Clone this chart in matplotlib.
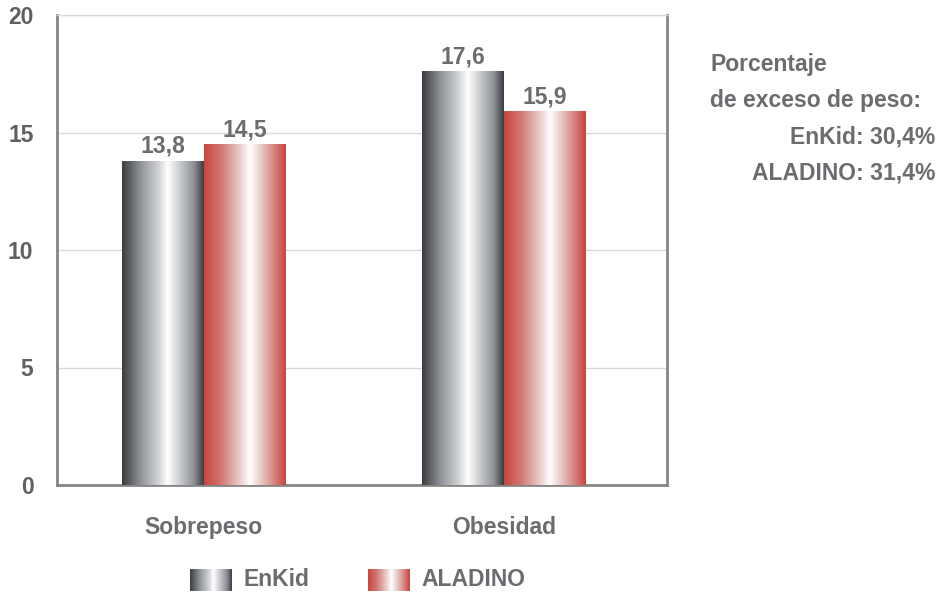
import numpy as np
import matplotlib
matplotlib.use("Agg")
import matplotlib.pyplot as plt
from matplotlib.colors import LinearSegmentedColormap

categories = ["Sobrepeso", "Obesidad"]
series_names = ["EnKid", "ALADINO"]
enkid = [13.8, 17.6]
aladino = [14.5, 15.9]
value_labels = [["13,8", "17,6"], ["14,5", "15,9"]]
yticks = [0, 5, 10, 15, 20]
note_lines = ["Porcentaje", "de exceso de peso:", "EnKid: 30,4%", "ALADINO: 31,4%"]

TEXT = "#6b6c70"
FONT = ["Liberation Sans", "DejaVu Sans"]
FS = 16.5

def metallic(dark, mid, light):
    return LinearSegmentedColormap.from_list(
        "m", [(0.0, dark), (0.22, mid), (0.45, light), (0.56, "#ffffff"),
              (0.68, light), (0.88, mid), (1.0, dark)])

cmaps = [metallic("#3a3c3f", "#8d9095", "#d2d4d7"),
         metallic("#c9443f", "#d47a74", "#ead2cf")]

fig = plt.figure(figsize=(9.41, 5.97), dpi=100)
ax = fig.add_axes([57 / 941, (597 - 485) / 597, 610 / 941, 470 / 597])

x = np.arange(len(categories))
width = 0.272
grad = np.linspace(0, 1, 256).reshape(1, -1)

for i, (vals, cmap) in enumerate(zip([enkid, aladino], cmaps)):
    offs = x + (i - 0.5) * width
    bars = ax.bar(offs, vals, width, facecolor="none", edgecolor="none", zorder=3)
    for b, lab in zip(bars, value_labels[i]):
        x0, w, h = b.get_x(), b.get_width(), b.get_height()
        im = ax.imshow(grad, cmap=cmap, aspect="auto", extent=(x0, x0 + w, 0, h),
                       zorder=3, interpolation="bicubic")
        im.set_clip_path(b)
        ax.text(x0 + w / 2, h + 0.12, lab, ha="center", va="bottom",
                fontsize=FS, fontweight="bold", color=TEXT, family=FONT, zorder=4)

ax.set_xlim(-0.488, 1.542)
ax.set_ylim(0, 20)
ax.set_yticks(yticks)
ax.set_yticklabels([str(t) for t in yticks], fontsize=FS, fontweight="bold",
                   color="#5f6063", family=FONT)
ax.tick_params(axis="y", length=0, pad=17)
ax.set_xticks(x)
ax.set_xticklabels(categories, fontsize=FS, fontweight="bold", color=TEXT, family=FONT)
ax.tick_params(axis="x", length=0, pad=22)
ax.grid(axis="y", color="#d9d9d9", linewidth=1, zorder=0)
ax.set_axisbelow(True)
ax.spines["top"].set_color("#d9d9d9")
ax.spines["top"].set_linewidth(1)
for s in ["left", "bottom", "right"]:
    ax.spines[s].set_color("#858585")
    ax.spines[s].set_linewidth(2)

# legend drawn as gradient swatches with labels
sw_w, sw_h = 42 / 941, 22 / 597
legend_items = [(190, 243), (368, 421)]
for (sx, tx), cmap, name in zip(legend_items, cmaps, series_names):
    lax = fig.add_axes([sx / 941, (597 - 591) / 597, sw_w, sw_h])
    lax.imshow(grad, cmap=cmap, aspect="auto", interpolation="bicubic")
    lax.axis("off")
    fig.text(tx / 941, (597 - 580) / 597, name, ha="left", va="center",
             fontsize=FS, fontweight="bold", color=TEXT, family=FONT)

fig.text(710 / 941, (597 - 65) / 597, note_lines[0], ha="left", va="center",
         fontsize=FS, fontweight="bold", color=TEXT, family=FONT)
fig.text(710 / 941, (597 - 101) / 597, note_lines[1], ha="left", va="center",
         fontsize=FS, fontweight="bold", color=TEXT, family=FONT)
fig.text(935 / 941, (597 - 137) / 597, note_lines[2], ha="right", va="center",
         fontsize=FS, fontweight="bold", color=TEXT, family=FONT)
fig.text(935 / 941, (597 - 173) / 597, note_lines[3], ha="right", va="center",
         fontsize=FS, fontweight="bold", color=TEXT, family=FONT)

fig.savefig("out.png", dpi=100)
